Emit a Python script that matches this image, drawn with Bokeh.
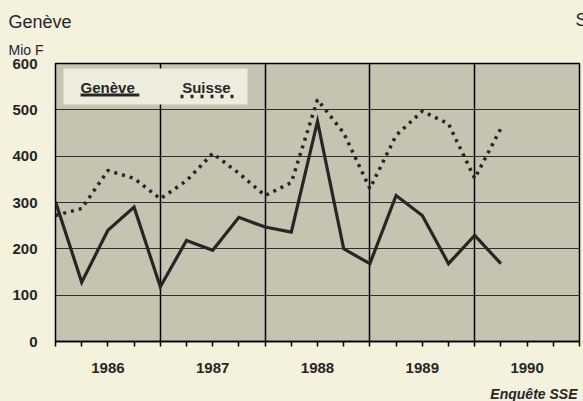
from bokeh.plotting import figure
from bokeh.models import (FixedTicker, Label, BoxAnnotation, Arrow, Range1d,
                          ColumnDataSource, Title)
from bokeh.embed import file_html
from bokeh.resources import INLINE

# ---- data (quarterly, Mio F) ----
quarters = [1986.0, 1986.25, 1986.5, 1986.75,
            1987.0, 1987.25, 1987.5, 1987.75,
            1988.0, 1988.25, 1988.5, 1988.75,
            1989.0, 1989.25, 1989.5, 1989.75,
            1990.0, 1990.25]
geneve = [302, 128, 240, 290, 118, 218, 197, 268, 247, 236, 475, 200,
          168, 315, 272, 168, 229, 168]
suisse = [272, 287, 369, 352, 308, 347, 406, 363, 315, 343, 522, 450,
          330, 445, 497, 470, 352, 460]
years = [1986, 1987, 1988, 1989, 1990, 1991]
year_mids = [1986.5, 1987.5, 1988.5, 1989.5, 1990.5]
year_labels = ["1986", "1987", "1988", "1989", "1990"]
y_ticks = [0, 100, 200, 300, 400, 500, 600]

CREAM = "#f4f1dc"
PLOT_BG = "#c6c3b1"
INK = "#262626"
FONT = "Liberation Sans"

src = ColumnDataSource(dict(x=quarters, ge=geneve, ch=suisse))

p = figure(frame_width=524, frame_height=278,
           x_range=Range1d(1986, 1991), y_range=Range1d(0, 600),
           output_backend="svg", toolbar_location=None,
           min_border_left=55, min_border_right=4,
           min_border_top=63, min_border_bottom=60)
p.title.visible = False

p.background_fill_color = PLOT_BG
p.border_fill_color = CREAM
p.outline_line_color = "black"
p.outline_line_width = 1.5

# x axis: labels centred in each year, short ticks at every quarter
minor_ticks = sorted(years + [y + q for y in years[:-1] for q in (0.25, 0.75)])
ax = p.xaxis[0]
ax.ticker = FixedTicker(ticks=year_mids, minor_ticks=minor_ticks)
ax.major_label_overrides = {m: l for m, l in zip(year_mids, year_labels)}
ax.major_tick_in = 0
ax.major_tick_out = 5
ax.minor_tick_in = 0
ax.minor_tick_out = 5
ax.major_tick_line_width = 1.5
ax.minor_tick_line_width = 1.5
ax.major_tick_line_color = "black"
ax.minor_tick_line_color = "black"
ax.axis_line_color = "black"
ax.axis_line_width = 1.5
ax.major_label_standoff = 16
ax.major_label_text_font = FONT
ax.major_label_text_font_size = "15px"
ax.major_label_text_font_style = "bold"
ax.major_label_text_color = INK

p.yaxis.ticker = FixedTicker(ticks=y_ticks)
p.yaxis.major_tick_in = 0
p.yaxis.major_tick_out = 0
p.yaxis.minor_tick_line_color = None
p.yaxis.axis_line_color = None
p.yaxis.major_label_standoff = 18
p.yaxis.major_label_text_font = FONT
p.yaxis.major_label_text_font_size = "15px"
p.yaxis.major_label_text_font_style = "bold"
p.yaxis.major_label_text_color = INK

# grids
p.xgrid.ticker = FixedTicker(ticks=years[1:-1])
p.xgrid.grid_line_color = "black"
p.xgrid.grid_line_width = 1.5
p.ygrid.ticker = FixedTicker(ticks=y_ticks[1:-1])
p.ygrid.grid_line_color = "#2e2e2e"
p.ygrid.grid_line_width = 1.2

# series
p.line("x", "ch", source=src, line_color=INK, line_width=3.5,
       line_dash="3 5", line_cap="butt")
p.line("x", "ge", source=src, line_color=INK, line_width=3.2,
       line_join="miter")

# legend (custom: label above its line sample)
p.add_layout(BoxAnnotation(left=1986.076, right=1987.832, bottom=511.5, top=589.2,
                           fill_color="#eeecdc", fill_alpha=1.0, line_color=None,
                           level="annotation"))
p.add_layout(Label(x=1986.239, y=548, text="Genève", text_font=FONT,
                   text_font_size="15px", text_font_style="bold",
                   text_color=INK, text_baseline="alphabetic"))
p.add_layout(Arrow(end=None, x_start=1986.239, y_start=532, x_end=1986.80, y_end=532,
                   line_color=INK, line_width=3))
p.add_layout(Label(x=1987.209, y=548, text="Suisse", text_font=FONT,
                   text_font_size="15px", text_font_style="bold",
                   text_color=INK, text_baseline="alphabetic"))
p.add_layout(Arrow(end=None, x_start=1987.193, y_start=529, x_end=1987.70, y_end=529,
                   line_color=INK, line_width=3.5, line_dash="3 7", line_cap="butt"))

# titles (stacked outward from the frame) and source note
p.add_layout(Title(text="Mio F", align="left", offset=-47, standoff=12,
                   text_font=FONT, text_font_size="14px",
                   text_font_style="normal", text_color=INK), "above")
p.add_layout(Title(text="Genève", align="left", offset=-47, standoff=3,
                   text_font=FONT, text_font_size="18px",
                   text_font_style="normal", text_color=INK), "above")
# neighbouring panel's title, cut by the right edge, on the same row as "Genève"
p.add_layout(Title(text="Suisse", align="left", offset=520, standoff=-43,
                   text_font=FONT, text_font_size="18px",
                   text_font_style="normal", text_color=INK), "above")
p.add_layout(Title(text="Enquête SSE", align="right", offset=2, standoff=16,
                   text_font=FONT, text_font_size="14px",
                   text_font_style="bold italic", text_color=INK), "below")

html = file_html(p, INLINE)
html = html.replace("<head>", "<head><style>html,body{background:%s;overflow:hidden;}</style>" % CREAM, 1)
open("out.html", "w").write(html)
